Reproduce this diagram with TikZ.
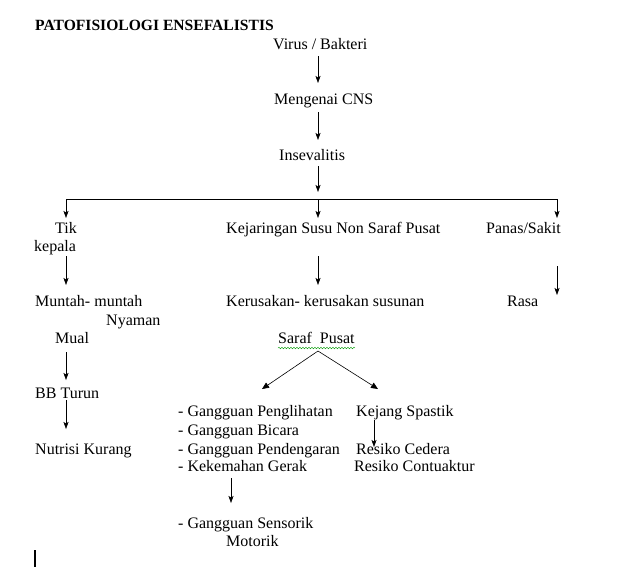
\documentclass[tikz,border=0pt]{standalone}
\usepackage{fontspec}
\setmainfont{Liberation Serif}
\usetikzlibrary{arrows.meta,decorations.pathmorphing}
\begin{document}
\begin{tikzpicture}[x=1pt,y=-1pt,
  txt/.style={anchor=base west,inner sep=0pt,font=\fontsize{16}{18.5}\selectfont},
  ttl/.style={anchor=base west,inner sep=0pt,font=\fontsize{15.6}{18}\selectfont\bfseries},
  arr/.style={-{Stealth[length=7pt,width=5pt,inset=1.5pt]},line width=0.6pt},
  tri/.style={-{Triangle[length=7pt,width=6pt]},line width=0.6pt},
  ln/.style={line width=0.8pt}]
\useasboundingbox (0,0) rectangle (636,582);
% texts
\node[ttl] (title) at (35,30) {PATOFISIOLOGI ENSEFALISTIS};
\node[txt] (virus) at (273,49) {Virus / Bakteri};
\node[txt] (cns) at (274,104) {Mengenai CNS};
\node[txt] (ins) at (279,160) {Insevalitis};
\node[txt] (tik) at (55,233) {Tik};
\node[txt] (kep) at (34,251) {kepala};
\node[txt] (kej) at (226,233) {Kejaringan Susu Non Saraf Pusat};
\node[txt] (pan) at (486,233) {Panas/Sakit};
\node[txt] (mun) at (35,306) {Muntah- muntah};
\node[txt] (nya) at (106,325) {Nyaman};
\node[txt] (ker) at (226,306) {Kerusakan- kerusakan susunan};
\node[txt] (ras) at (507,306) {Rasa};
\node[txt] (mua) at (55,343) {Mual};
\node[txt] (sar) at (278,343) {Saraf\ \ Pusat};
\node[txt] (bb) at (35,398) {BB Turun};
\node[txt] (nut) at (35,454) {Nutrisi Kurang};
\node[txt] (g1) at (178,416) {- Gangguan Penglihatan};
\node[txt] (g2) at (178,435) {- Gangguan Bicara};
\node[txt] (g3) at (178,454) {- Gangguan Pendengaran};
\node[txt] (g4) at (178,471) {- Kekemahan Gerak};
\node[txt] (ks) at (356,416) {Kejang Spastik};
\node[txt] (rc) at (356,454) {Resiko Cedera};
\node[txt] (rk) at (354,471) {Resiko Contuaktur};
\node[txt] (gs) at (178,528) {- Gangguan Sensorik};
\node[txt] (mot) at (226,546) {Motorik};
% coordinates
\coordinate (a1s) at (318,56); \coordinate (a1e) at (318,83);
\coordinate (a2s) at (318,112); \coordinate (a2e) at (318,140);
\coordinate (a3s) at (318,166); \coordinate (a3e) at (318,192);
\coordinate (hl) at (66,199); \coordinate (hr) at (557,199);
\coordinate (hm) at (318,199);
\coordinate (dl) at (66,218); \coordinate (dm) at (318,218); \coordinate (dr) at (557,218);
\coordinate (b1s) at (66,256); \coordinate (b1e) at (66,285);
\coordinate (b2s) at (318,256); \coordinate (b2e) at (318,285);
\coordinate (b3s) at (557,266); \coordinate (b3e) at (557,295);
\coordinate (c1s) at (66,352); \coordinate (c1e) at (66,380);
\coordinate (pk) at (318,351);
\coordinate (pl) at (262,389); \coordinate (pr) at (378,389);
\coordinate (d1s) at (66,400); \coordinate (d1e) at (66,429);
\coordinate (e1s) at (374,420); \coordinate (e1e) at (374,447);
\coordinate (f1s) at (231,478); \coordinate (f1e) at (231,503);
\coordinate (w1) at (278,348); \coordinate (w2) at (355,348);
\coordinate (cur1) at (35,550); \coordinate (cur2) at (35,567);
% connectors
\draw[arr] (a1s) -- (a1e);
\draw[arr] (a2s) -- (a2e);
\draw[arr] (a3s) -- (a3e);
\draw[ln] (hl) -- (hr);
\draw[arr] (hl) -- (dl);
\draw[arr] (hm) -- (dm);
\draw[arr] (hr) -- (dr);
\draw[arr] (b1s) -- (b1e);
\draw[arr] (b2s) -- (b2e);
\draw[arr] (b3s) -- (b3e);
\draw[arr] (c1s) -- (c1e);
\draw[tri] (pk) -- (pl);
\draw[tri] (pk) -- (pr);
\draw[arr] (d1s) -- (d1e);
\draw[arr] (e1s) -- (e1e);
\draw[arr] (f1s) -- (f1e);
% wavy underline
\draw[green!60!black,line width=0.4pt,decorate,decoration={snake,amplitude=0.8pt,segment length=3pt}] (w1) -- (w2);
% cursor
\draw[line width=1.5pt] (cur1) -- (cur2);
\end{tikzpicture}
\end{document}
